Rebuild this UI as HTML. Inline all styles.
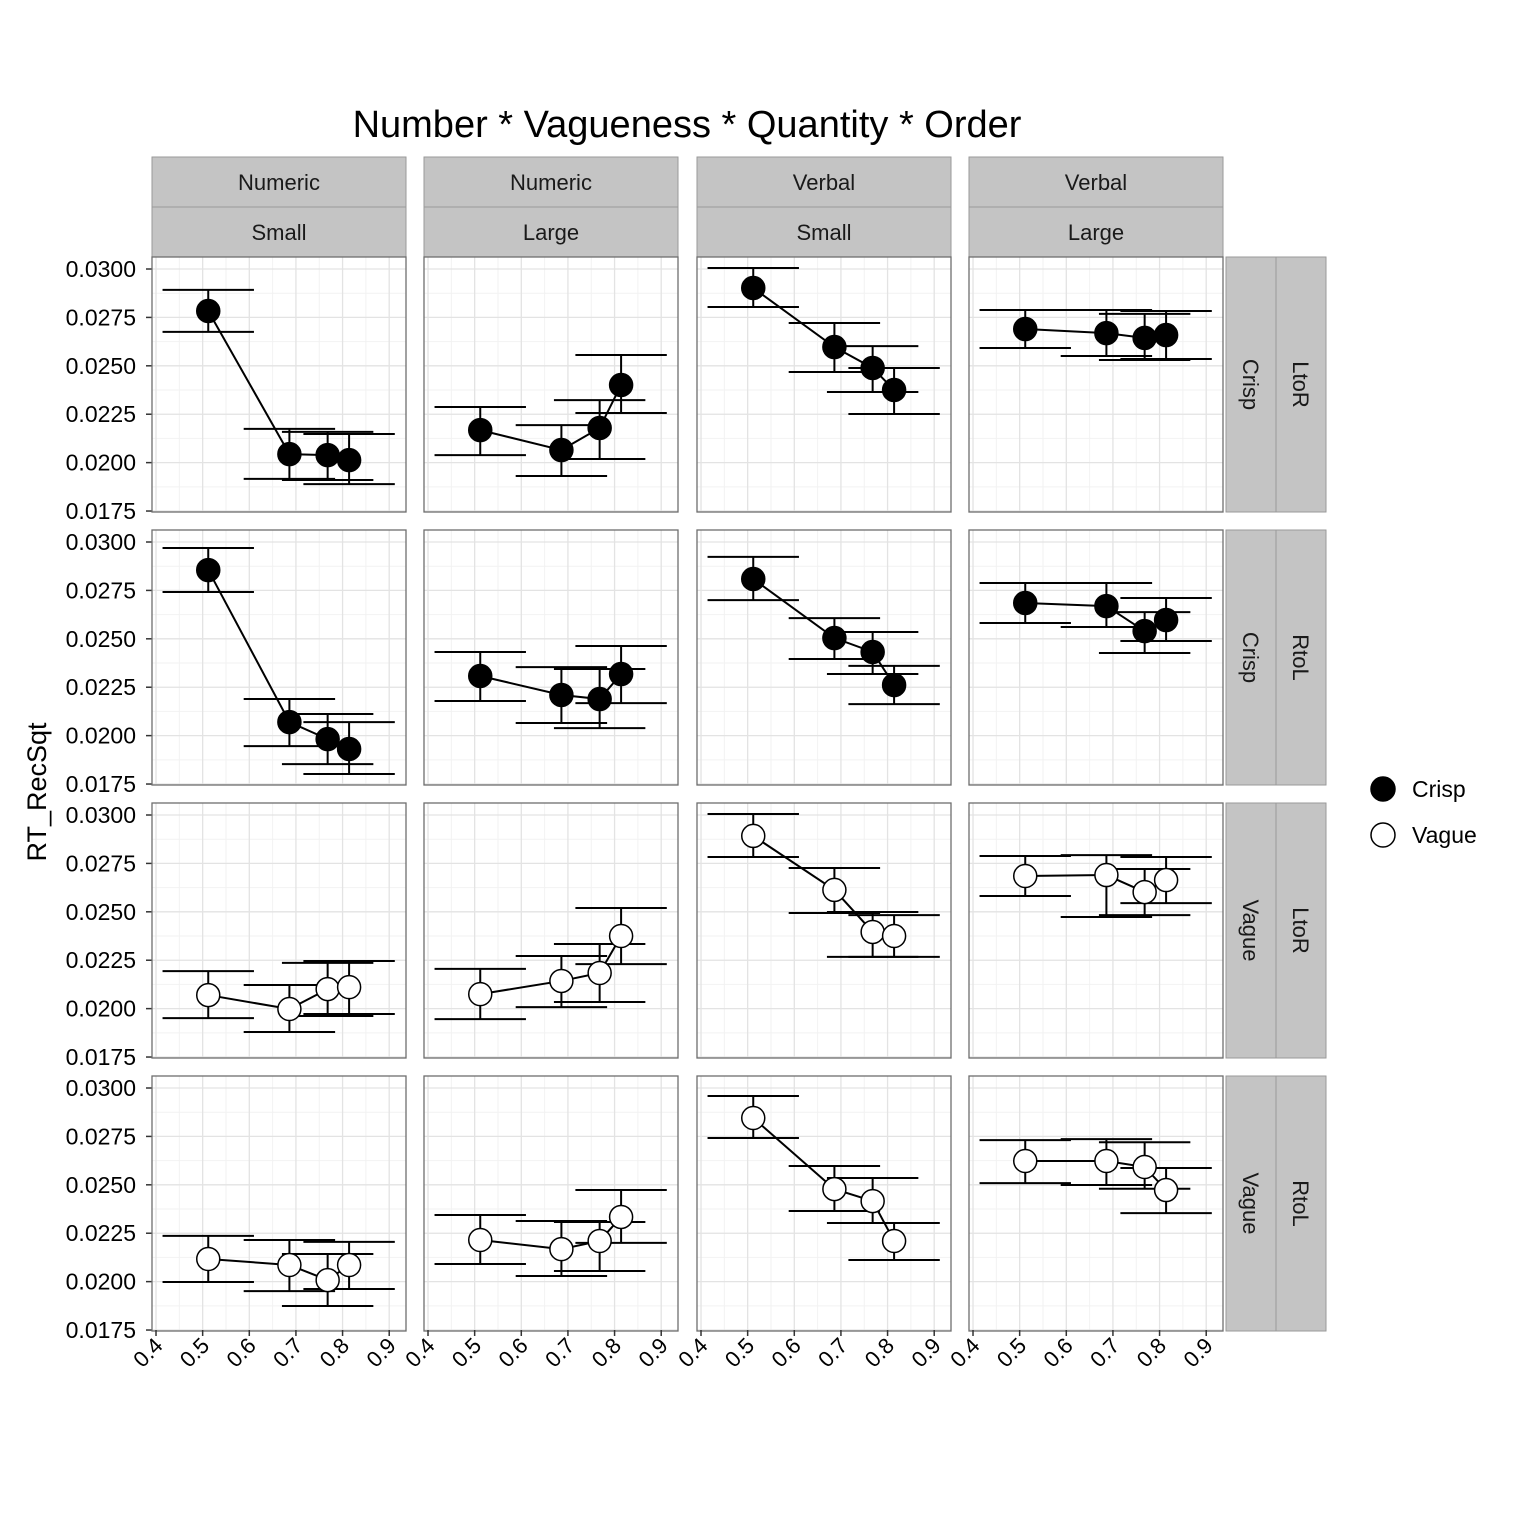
<!DOCTYPE html>
<html><head><meta charset="utf-8"><style>
body{margin:0;background:#fff}
svg{display:block;font-family:"Liberation Sans",Arial,sans-serif}
</style></head><body>
<svg id="chart" width="1536" height="1536" viewBox="0 0 1536 1536" xmlns="http://www.w3.org/2000/svg">
<rect width="1536" height="1536" fill="#fff"/>
<text x="687" y="137" font-size="38" text-anchor="middle">Number * Vagueness * Quantity * Order</text>
<text transform="translate(46,792) rotate(-90)" font-size="27" text-anchor="middle">RT_RecSqt</text>
<g>
<circle cx="1383" cy="789" r="12" fill="#000" stroke="#000" stroke-width="1.5"/>
<text x="1412" y="797" font-size="23">Crisp</text>
<circle cx="1383" cy="835" r="12" fill="#fff" stroke="#000" stroke-width="1.5"/>
<text x="1412" y="843" font-size="23">Vague</text>
</g>
<g id="panels"></g>
</svg>
<script>
const xValues = [0.512, 0.686, 0.768, 0.814];
const colNumber = ["Numeric","Numeric","Verbal","Verbal"];
const colQuantity = ["Small","Large","Small","Large"];
const rowVagueness = ["Crisp","Crisp","Vague","Vague"];
const rowOrder = ["LtoR","RtoL","LtoR","RtoL"];
const yTicks = [0.0175,0.0200,0.0225,0.0250,0.0275,0.0300];
const yTickLabels = ["0.0175","0.0200","0.0225","0.0250","0.0275","0.0300"];
const xTicks = [0.4,0.5,0.6,0.7,0.8,0.9];
const xTickLabels = ["0.4","0.5","0.6","0.7","0.8","0.9"];
const means = [
 [[0.02783,0.02044,0.02039,0.02013],[0.02168,0.02065,0.02179,0.02401],[0.02902,0.02597,0.02489,0.02375],[0.0269,0.02669,0.02644,0.02659]],
 [[0.02855,0.0207,0.01982,0.01931],[0.02308,0.0221,0.02189,0.02318],[0.02809,0.02504,0.02432,0.02261],[0.02685,0.02669,0.0254,0.02597]],
 [[0.0207,0.01998,0.02101,0.02111],[0.02075,0.02143,0.02184,0.02375],[0.02892,0.02613,0.02396,0.02375],[0.02685,0.0269,0.02602,0.02664]],
 [[0.02117,0.02086,0.02008,0.02086],[0.02215,0.02168,0.0221,0.02334],[0.02845,0.02478,0.02416,0.0221],[0.02623,0.02623,0.02592,0.02473]]
];
const lows = [
 [[0.02675,0.01916,0.0191,0.01889],[0.02039,0.01931,0.02019,0.02256],[0.02804,0.02468,0.02365,0.02251],[0.02592,0.02551,0.0253,0.02535]],
 [[0.02742,0.01946,0.01853,0.01802],[0.02179,0.02065,0.02039,0.02168],[0.027,0.02396,0.02318,0.02163],[0.02582,0.02561,0.02427,0.02489]],
 [[0.01951,0.01879,0.01962,0.01972],[0.01946,0.02008,0.02034,0.0223],[0.02783,0.02494,0.02267,0.02267],[0.02582,0.02473,0.02483,0.02545]],
 [[0.01998,0.01951,0.01874,0.01962],[0.02091,0.02029,0.02055,0.022],[0.02742,0.02365,0.02303,0.02112],[0.02509,0.02499,0.0248,0.02354]]
];
const highs = [
 [[0.02892,0.02174,0.02159,0.02148],[0.02287,0.02194,0.02323,0.02556],[0.03005,0.02721,0.02602,0.02489],[0.02788,0.02788,0.02768,0.02783]],
 [[0.02969,0.02189,0.02112,0.0207],[0.02432,0.02354,0.02344,0.02463],[0.02923,0.02607,0.02535,0.0236],[0.02788,0.02788,0.02638,0.02711]],
 [[0.02194,0.02122,0.02236,0.02246],[0.02205,0.02272,0.02334,0.0252],[0.03005,0.02726,0.02499,0.02483],[0.02788,0.02793,0.02721,0.02783]],
 [[0.02236,0.02215,0.02143,0.02205],[0.02344,0.02313,0.02308,0.02473],[0.02959,0.02597,0.02535,0.02303],[0.02731,0.02736,0.0272,0.02587]]
];
const NS="http://www.w3.org/2000/svg";
const root=document.getElementById('panels');
function mk(tag,attrs,parent){const e=document.createElementNS(NS,tag);for(const k in attrs)e.setAttribute(k,attrs[k]);(parent||root).appendChild(e);return e;}
const colX=[152,424,697,969], rowY=[257,530,803,1076], PW=254, PH=255;
const XMIN=0.3914, XMAX=0.936, YTOP=0.03062, YBOT=0.01745;
for(let c=0;c<4;c++){
  const s1=mk('rect',{x:colX[c],y:157,width:PW,height:50,fill:'#c4c4c4',stroke:'#9a9a9a'});
  
  
  const s2=mk('rect',{x:colX[c],y:207,width:PW,height:50,fill:'#c4c4c4',stroke:'#9a9a9a'});
  
  
  const t1=mk('text',{x:colX[c]+PW/2,y:190,'font-size':22,'text-anchor':'middle',fill:'#1a1a1a'});t1.textContent=colNumber[c];
  
  
  const t2=mk('text',{x:colX[c]+PW/2,y:240,'font-size':22,'text-anchor':'middle',fill:'#1a1a1a'});t2.textContent=colQuantity[c];
  
  
}
for(let r=0;r<4;r++){
  const y0=rowY[r];
  const s1=mk('rect',{x:1226,y:y0,width:50,height:PH,fill:'#c4c4c4',stroke:'#9a9a9a'});
  
  
  const s2=mk('rect',{x:1276,y:y0,width:50,height:PH,fill:'#c4c4c4',stroke:'#9a9a9a'});
  
  
  const t1=mk('text',{transform:`translate(1243,${y0+PH/2}) rotate(90)`,'font-size':22,'text-anchor':'middle',fill:'#1a1a1a'});t1.textContent=rowVagueness[r];
  
  
  const t2=mk('text',{transform:`translate(1293,${y0+PH/2}) rotate(90)`,'font-size':22,'text-anchor':'middle',fill:'#1a1a1a'});t2.textContent=rowOrder[r];
  
  
  const ys=v=>y0+(YTOP-v)/(YTOP-YBOT)*PH;
  for(let i=0;i<yTicks.length;i++){
    const yy=ys(yTicks[i]);
    mk('line',{x1:146,x2:152,y1:yy,y2:yy,stroke:'#333','stroke-width':1.5});
    const t=mk('text',{x:136,y:yy+8,'font-size':23,'text-anchor':'end',fill:'#000'});t.textContent=yTickLabels[i];
    
    
  }
  for(let c=0;c<4;c++){
    const x0=colX[c];
    const xs=v=>x0+(v-XMIN)/(XMAX-XMIN)*PW;
    const g=mk('g',{});
    
    
    mk('rect',{x:x0,y:y0,width:PW,height:PH,fill:'#fff'},g);
    for(let i=0;i<yTicks.length-1;i++){const yy=ys((yTicks[i]+yTicks[i+1])/2);mk('line',{x1:x0,x2:x0+PW,y1:yy,y2:yy,stroke:'#f2f2f2','stroke-width':1},g);}
    for(let i=0;i<xTicks.length-1;i++){const xx=xs((xTicks[i]+xTicks[i+1])/2);mk('line',{x1:xx,x2:xx,y1:y0,y2:y0+PH,stroke:'#f2f2f2','stroke-width':1},g);}
    for(const v of yTicks){const yy=ys(v);mk('line',{x1:x0,x2:x0+PW,y1:yy,y2:yy,stroke:'#e3e3e3','stroke-width':1.3},g);}
    for(const v of xTicks){const xx=xs(v);mk('line',{x1:xx,x2:xx,y1:y0,y2:y0+PH,stroke:'#e3e3e3','stroke-width':1.3},g);}
    const m=means[r][c], lo=lows[r][c], hi=highs[r][c];
    const fill=rowVagueness[r]==='Crisp'?'#000':'#fff';
    for(let i=0;i<4;i++){
      const xx=xs(xValues[i]);
      const eb=mk('path',{d:`M${xs(xValues[i]-0.098)},${ys(hi[i])}H${xs(xValues[i]+0.098)}M${xx},${ys(hi[i])}V${ys(lo[i])}M${xs(xValues[i]-0.098)},${ys(lo[i])}H${xs(xValues[i]+0.098)}`,stroke:'#000','stroke-width':2,fill:'none'},g);
      
      
    }
    const ln=mk('polyline',{points:m.map((v,i)=>xs(xValues[i])+','+ys(v)).join(' '),fill:'none',stroke:'#000','stroke-width':2},g);
    
    
    for(let i=0;i<4;i++){
      const p=mk('circle',{cx:xs(xValues[i]),cy:ys(m[i]),r:11.5,fill:fill,stroke:'#000','stroke-width':1.5},g);
      
      
    }
    mk('rect',{x:x0,y:y0,width:PW,height:PH,fill:'none',stroke:'#6e6e6e','stroke-width':1.3},g);
    if(r===3){
      for(let i=0;i<xTicks.length;i++){
        const xx=xs(xTicks[i]);
        mk('line',{x1:xx,x2:xx,y1:1330,y2:1336,stroke:'#333','stroke-width':1.5});
        const t=mk('text',{transform:`translate(${xx+8},${1347}) rotate(-45)`,'font-size':22,'text-anchor':'end',fill:'#000'});t.textContent=xTickLabels[i];
        
        
      }
    }
  }
}
</script>
</body></html>
